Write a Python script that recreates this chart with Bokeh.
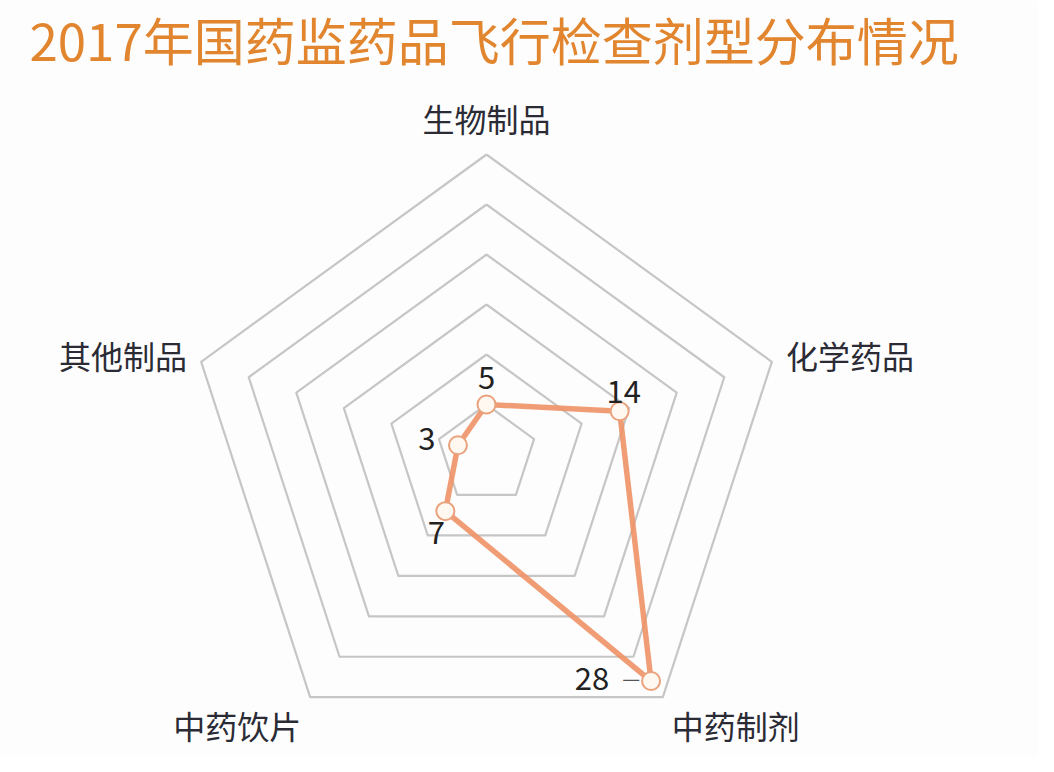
import math
from bokeh.plotting import figure
from bokeh.models import Range1d, Label, ColumnDataSource
from bokeh.core.properties import value
from bokeh.embed import file_html
from bokeh.resources import INLINE

# ---- data ----
title_text = "2017年国药监药品飞行检查剂型分布情况"
categories = ["生物制品", "化学药品", "中药制剂", "中药饮片", "其他制品"]
values = [5, 14, 28, 7, 3]
max_value = 30
ring_step = 5

# ---- layout / style ----
FONT = "Noto Sans CJK SC"
W, H = 1038, 756
label_radius = 31.5
# per-category label alignment and pixel nudges
label_align = ["center", "left", "left", "right", "right"]
label_dy = [-22, -2, 16, 16, -2]
# value-label pixel offsets (x, y) relative to each point
val_dx = [0, 4, -59, -9, -31]
val_dy = [-27, -20, -3, 21, -7]

n = len(categories)
angles = [math.pi / 2 - 2 * math.pi * i / n for i in range(n)]

def polar(r, a):
    return r * math.cos(a), r * math.sin(a)

p = figure(width=W, height=H, output_backend="svg", toolbar_location=None,
           x_axis_type=None, y_axis_type=None, min_border=0,
           x_range=Range1d(-48.6, 55.2), y_range=Range1d(-30.2, 45.4),
           background_fill_color="#fdfdfd", border_fill_color="#fdfdfd")
p.outline_line_color = None
p.grid.visible = False

# rings
ring_xs, ring_ys = [], []
for k in range(ring_step, max_value + 1, ring_step):
    pts = [polar(k, a) for a in angles]
    ring_xs.append([q[0] for q in pts] + [pts[0][0]])
    ring_ys.append([q[1] for q in pts] + [pts[0][1]])
p.multi_line(ring_xs, ring_ys, line_color="#c6c6c6", line_width=2.2, line_join="round")

# series
sx = [polar(v, a)[0] for v, a in zip(values, angles)]
sy = [polar(v, a)[1] for v, a in zip(values, angles)]
p.line(sx + [sx[0]], sy + [sy[0]], line_color="#EE9266", line_width=5.5,
       line_alpha=0.9, line_join="round")
p.scatter(sx, sy, size=18, fill_color="#fff8f1", line_color="#E9A27C", line_width=2)

# value labels
vsrc = ColumnDataSource(dict(x=sx, y=sy, t=[str(v) for v in values], dx=val_dx, dy=val_dy))
p.text(x="x", y="y", text="t", x_offset="dx", y_offset="dy", source=vsrc,
       text_font=value(FONT), text_font_size="31px", text_color="#222222",
       text_align="center", text_baseline="middle")
# leader dash for the largest value
imax = values.index(max(values))
p.text(x=[sx[imax]], y=[sy[imax]], text=["—"], x_offset=-20, y_offset=-4,
       text_font=value(FONT), text_font_size="20px", text_color="#555555",
       text_align="center", text_baseline="middle")

# category labels
for i, (c, a) in enumerate(zip(categories, angles)):
    lx, ly = polar(label_radius, a)
    p.text(x=[lx], y=[ly], text=[c], y_offset=label_dy[i],
           text_font=value(FONT), text_font_size="32px", text_color="#2b2b35",
           text_align=label_align[i], text_baseline="middle")

# title
p.add_layout(Label(x=29, y=H - 38, x_units="screen", y_units="screen", text=title_text,
                   text_font=FONT, text_font_size="51px", text_color="#E2852F",
                   text_align="left", text_baseline="middle"))

open("out.html", "w").write(file_html(p, INLINE))
